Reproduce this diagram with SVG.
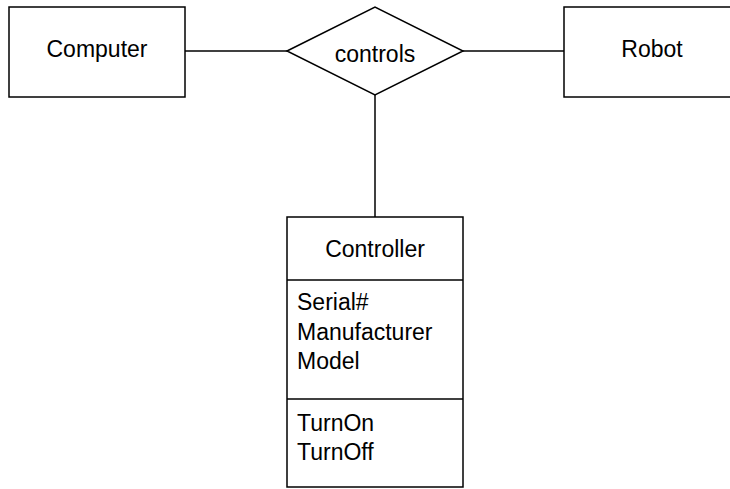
<svg xmlns="http://www.w3.org/2000/svg" width="730" height="489" viewBox="0 0 730 489">
<style>
.shape{fill:#fff;stroke:#000;stroke-width:1.5}
.conn{stroke:#000;stroke-width:1.5;fill:none}
text{font-family:"Liberation Sans",Arial,sans-serif;font-size:23px;fill:#000}
.c{text-anchor:middle}
</style>
<rect width="730" height="489" fill="#fff"/>
<g id="connectors">
<line class="conn" x1="185" y1="51" x2="287" y2="51"/>
<line class="conn" x1="463" y1="51" x2="564" y2="51"/>
<line class="conn" x1="375" y1="95" x2="375" y2="217"/>
</g>
<g id="computer">
<rect class="shape" x="9" y="7" width="176" height="90"/>
<text class="c" x="97" y="57">Computer</text>
</g>
<g id="controls">
<polygon class="shape" points="287,51 375,7 463,51 375,95"/>
<text class="c" x="375" y="62">controls</text>
</g>
<g id="robot">
<rect class="shape" x="564" y="7" width="176" height="90"/>
<text class="c" x="652" y="57">Robot</text>
</g>
<g id="controller">
<rect class="shape" x="287" y="217" width="176" height="270"/>
<line class="conn" x1="287" y1="280" x2="463" y2="280"/>
<line class="conn" x1="287" y1="399" x2="463" y2="399"/>
<text class="c" x="375" y="257">Controller</text>
<text x="297" y="310">Serial#</text>
<text x="297" y="340">Manufacturer</text>
<text x="297" y="369">Model</text>
<text x="297" y="431">TurnOn</text>
<text x="297" y="460">TurnOff</text>
</g>
</svg>
